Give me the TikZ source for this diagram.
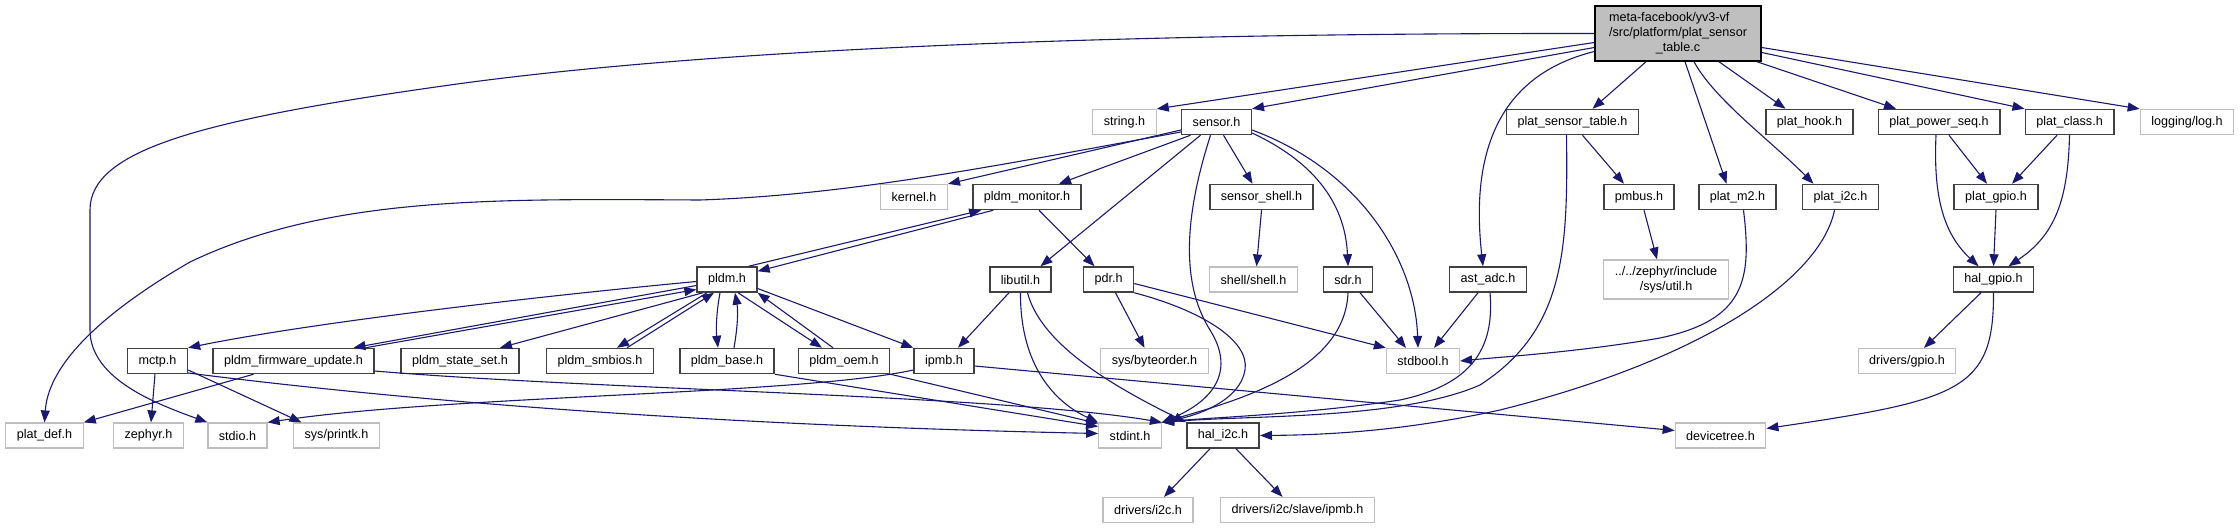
\documentclass[tikz,border=0pt]{standalone}
\usepackage{fontspec}
\setmainfont{Liberation Sans}
\usetikzlibrary{arrows.meta}
\definecolor{edge}{HTML}{191970}
\definecolor{frame}{HTML}{404040}
\definecolor{sysframe}{HTML}{BFBFBF}
\definecolor{rootfill}{HTML}{BFBFBF}
\tikzset{
  font=\fontsize{12.6}{15}\selectfont,
  >={Triangle[length=12pt, width=9pt]},
  %
  hdr/.style={
    draw=frame, line width=1.5pt, fill=white, text=black,
    inner xsep=11pt, inner ysep=0pt, minimum height=25pt,
  },
  syshdr/.style={hdr, draw=sysframe, line width=1.2pt},
  srcfile/.style={hdr, draw=black, fill=rootfill,
                  minimum width=166pt, minimum height=55pt},
  %
  dep/.style={draw=edge, line width=1.1pt, ->},
}

\begin{document}
\begin{tikzpicture}[x=1pt, y=-1pt]
  \useasboundingbox (0,0) rectangle (2240,529);

  % ---- nodes ------------------------------------------------------------
  \node[srcfile] (src) at (1678,33.5)
    {\begin{tabular}{@{}l@{}}meta-facebook/yv3-vf\\/src/platform/plat\_sensor\\
     \multicolumn{1}{@{}c@{}}{\_table.c}\end{tabular}};

  % row 1
  \node[syshdr] (string) at (1124.5,122) {string.h};
  \node[hdr]    (sensor) at (1216.5,122) {sensor.h};
  \node[hdr]    (pst)    at (1572.5,122) {plat\_sensor\_table.h};
  \node[hdr]    (hook)   at (1809.5,122) {plat\_hook.h};
  \node[hdr]    (pwrseq) at (1939,122)   {plat\_power\_seq.h};
  \node[hdr]    (class)  at (2069.5,122) {plat\_class.h};
  \node[syshdr] (log)    at (2187,122)   {logging/log.h};

  % row 2
  \node[syshdr] (kernel)  at (914,197)    {kernel.h};
  \node[hdr]    (monitor) at (1027,197)   {pldm\_monitor.h};
  \node[hdr]    (shellh)  at (1261.5,197) {sensor\_shell.h};
  \node[hdr]    (pmbus)   at (1639,197)   {pmbus.h};
  \node[hdr]    (m2)      at (1737.5,197) {plat\_m2.h};
  \node[hdr]    (i2c)     at (1840.5,197) {plat\_i2c.h};
  \node[hdr]    (pgpio)   at (1996,197)   {plat\_gpio.h};

  % row 3
  \node[hdr]    (pldm)    at (727,279.5)    {pldm.h};
  \node[hdr]    (libutil) at (1020.5,279.5) {libutil.h};
  \node[hdr]    (pdr)     at (1108.5,279.5) {pdr.h};
  \node[syshdr] (shell)   at (1253.5,279.5) {shell/shell.h};
  \node[hdr]    (sdr)     at (1348,279.5)   {sdr.h};
  \node[hdr]    (adc)     at (1488,279.5)   {ast\_adc.h};
  \node[syshdr, align=center, minimum height=39pt] (util) at (1666,279.5)
    {../../zephyr/include\\/sys/util.h};
  \node[hdr]    (hgpio)   at (1993.5,279.5) {hal\_gpio.h};

  % row 4
  \node[hdr]    (mctp)      at (157.5,361)  {mctp.h};
  \node[hdr]    (fwup)      at (293.5,361)  {pldm\_firmware\_update.h};
  \node[hdr]    (stateset)  at (460,361)    {pldm\_state\_set.h};
  \node[hdr]    (smbios)    at (600,361)    {pldm\_smbios.h};
  \node[hdr]    (base)      at (727,361)    {pldm\_base.h};
  \node[hdr]    (oem)       at (844,361)    {pldm\_oem.h};
  \node[hdr]    (ipmb)      at (944,361)    {ipmb.h};
  \node[syshdr] (byteorder) at (1154.5,361) {sys/byteorder.h};
  \node[syshdr] (stdbool)   at (1423,361)   {stdbool.h};
  \node[syshdr] (dgpio)     at (1907,361)   {drivers/gpio.h};

  % row 5
  \node[syshdr] (platdef) at (44.5,435.5)   {plat\_def.h};
  \node[syshdr] (zephyr)  at (148.5,435.5)  {zephyr.h};
  \node[syshdr] (stdio)   at (237.5,435.5)  {stdio.h};
  \node[syshdr] (printk)  at (336.5,435.5)  {sys/printk.h};
  \node[syshdr] (stdint)  at (1130,435.5)   {stdint.h};
  \node[hdr]    (hali2c)  at (1223,435.5)   {hal\_i2c.h};
  \node[syshdr] (dtree)   at (1720.5,435.5) {devicetree.h};

  % row 6
  \node[syshdr] (di2c)  at (1148,510)   {drivers/i2c.h};
  \node[syshdr] (dipmb) at (1297.5,510) {drivers/i2c/slave/ipmb.h};

  % ---- includes of the source file ---------------------------------------
  \draw[dep] (src.west) .. controls (1100,33) and (700,50) .. (450,85)
    .. controls (200,120) and (90,150) .. (90,210) -- (90,330)
    .. controls (90,380) and (160,405) .. (stdio.north west);
  \draw[dep] ([yshift=-9pt]src.west) -- (string.north east);
  \draw[dep] ([yshift=-14pt]src.west) -- (sensor.north east);
  \draw[dep] ([yshift=-18pt]src.west) .. controls (1500,75) and (1470,150)
    .. ([xshift=-5pt]adc.north);
  \draw[dep] ([xshift=-32pt]src.south) -- ([xshift=20pt]pst.north);
  \draw[dep] ([xshift=7pt]src.south) -- ([xshift=-11pt]m2.north);
  \draw[dep] ([xshift=16pt]src.south) .. controls (1715,100) and (1770,140)
    .. ([xshift=-27pt]i2c.north);
  \draw[dep] ([xshift=41pt]src.south) -- ([xshift=-24pt]hook.north);
  \draw[dep] ([xshift=79pt]src.south) -- ([xshift=-43pt]pwrseq.north);
  \draw[dep] ([yshift=-19pt]src.east) -- (class.north west);
  \draw[dep] ([yshift=-14pt]src.east) -- (log.north west);

  % ---- sensor.h ----------------------------------------------------------
  \draw[dep] ([yshift=-10pt]sensor.west) .. controls (1000,165) and (850,195) .. (700,200)
    .. controls (500,199) and (330,195) .. (190,262)
    .. controls (90,320) and (48,370) .. (platdef.north);
  \draw[dep] ([yshift=-8pt]sensor.west) -- (kernel.north east);
  \draw[dep] ([xshift=-26pt]sensor.south) -- ([xshift=32pt]monitor.north);
  \draw[dep] ([xshift=-16pt]sensor.south) -- ([xshift=20pt]libutil.north);
  \draw[dep] ([xshift=-6pt]sensor.south) .. controls (1180,230) and (1185,290) .. (1210,330)
    .. controls (1235,370) and (1215,400) .. (stdint.north east);
  \draw[dep] ([xshift=7pt]sensor.south) -- ([xshift=-9pt]shellh.north);
  \draw[dep] ([yshift=-11pt]sensor.east) .. controls (1310,160) and (1345,200) .. (sdr.north);
  \draw[dep] ([yshift=-8pt]sensor.east) .. controls (1360,170) and (1415,260)
    .. ([xshift=-5pt]stdbool.north);

  % ---- second row --------------------------------------------------------
  \draw[dep] ([xshift=-9pt]pldm.north east) -- ([xshift=9pt]monitor.south west);
  \draw[dep] ([xshift=21pt]monitor.south west) -- ([yshift=-5pt]pldm.north east);
  \draw[dep] ([xshift=12pt]monitor.south) -- ([xshift=-14pt]pdr.north);
  \draw[dep] (shellh.south) -- ([xshift=3pt]shell.north);
  \draw[dep] ([xshift=10pt]pst.south) -- ([xshift=-15pt]pmbus.north);
  \draw[dep] ([xshift=-6pt]pst.south) .. controls (1568,250) and (1565,330) .. (1480,385)
    .. controls (1400,420) and (1250,415) .. (stdint.north east);
  \draw[dep] ([xshift=5pt]pmbus.south) -- ([xshift=-9pt]util.north);
  \draw[dep] ([xshift=6pt]m2.south) .. controls (1752,280) and (1745,320) .. (1660,338)
    .. controls (1580,352) and (1500,357) .. (stdbool.east);
  \draw[dep] ([xshift=-6pt]i2c.south) .. controls (1820,280) and (1700,360) .. (1500,410)
    .. controls (1400,432) and (1320,435) .. (hali2c.east);
  \draw[dep] ([xshift=10pt]pwrseq.south) -- ([xshift=-9pt]pgpio.north);
  \draw[dep] ([xshift=-3pt]pwrseq.south) .. controls (1933,200) and (1945,235)
    .. ([xshift=-15pt]hgpio.north);
  \draw[dep] ([xshift=-12.5pt]class.south) -- ([xshift=16pt]pgpio.north);
  \draw[dep] (class.south) .. controls (2068,200) and (2055,235) .. ([xshift=15pt]hgpio.north);
  \draw[dep] (pgpio.south) -- (hgpio.north);

  % ---- third row ---------------------------------------------------------
  \draw[dep] ([xshift=-12.5pt]hgpio.south) -- ([xshift=17pt]dgpio.north);
  \draw[dep] (hgpio.south) .. controls (1994,390) and (1960,400) .. ([yshift=7pt]dtree.east);
  \draw[dep] ([xshift=-10pt]adc.south) -- ([xshift=11pt]stdbool.north);
  \draw[dep] ([xshift=2pt]adc.south) .. controls (1495,350) and (1470,385) .. (1400,400)
    .. controls (1300,415) and (1200,418) .. (stdint.north east);
  \draw[dep] ([xshift=12pt]sdr.south) -- ([xshift=-17pt]stdbool.north);
  \draw[dep] (sdr.south) .. controls (1345,370) and (1240,400) .. (stdint.north east);
  \draw[dep] ([xshift=7pt]pdr.south) -- ([xshift=-10pt]byteorder.north);
  \draw[dep] (pdr.south east) .. controls (1200,310) and (1250,340) .. (1245,370)
    .. controls (1240,400) and (1200,415) .. (stdint.north east);
  \draw[dep] ([yshift=-4pt]pdr.east) -- (stdbool.north west);
  \draw[dep] ([xshift=-11.5pt]libutil.south) -- ([xshift=14pt]ipmb.north);
  \draw[dep] (libutil.south) .. controls (1020,360) and (1050,400) .. (stdint.north west);
  \draw[dep] ([xshift=7pt]libutil.south) .. controls (1040,340) and (1100,380) .. (hali2c.north west);

  % ---- pldm.h ------------------------------------------------------------
  \draw[dep] ([yshift=-2pt]pldm.west) .. controls (500,300) and (300,325) .. (mctp.north east);
  \draw[dep] ([yshift=-6pt]pldm.west) -- ([xshift=60pt]fwup.north);
  \draw[dep] ([xshift=72pt]fwup.north) -- ([yshift=-10pt]pldm.west);
  \draw[dep] ([xshift=-24pt]pldm.south) -- ([xshift=40pt]stateset.north);
  \draw[dep] ([xshift=-20pt]pldm.south) -- ([xshift=17pt]smbios.north);
  \draw[dep] ([xshift=27pt]smbios.north) -- ([xshift=-13pt]pldm.south);
  \draw[dep] ([xshift=-7pt]pldm.south) .. controls (716,315) and (716,330) .. ([xshift=-9pt]base.north);
  \draw[dep] ([xshift=7pt]base.north) .. controls (738,325) and (738,310) .. ([xshift=8pt]pldm.south);
  \draw[dep] ([xshift=11pt]pldm.south) -- ([xshift=-22pt]oem.north);
  \draw[dep] ([xshift=-11pt]oem.north) -- (pldm.south east);
  \draw[dep] ([yshift=-9pt]pldm.east) -- (ipmb.north west);

  % ---- fourth row --------------------------------------------------------
  \draw[dep] ([xshift=-2.5pt]mctp.south) -- ([xshift=2.5pt]zephyr.north);
  \draw[dep] ([yshift=-9pt]mctp.east) -- ([xshift=-35pt]printk.north);
  \draw[dep] ([yshift=-12pt]mctp.east) .. controls (400,400) and (700,425) .. ([yshift=2pt]stdint.west);
  \draw[dep] ([xshift=-40pt]fwup.south) -- (platdef.north east);
  \draw[dep] ([yshift=-10pt]fwup.east) .. controls (600,390) and (1000,395) .. (stdint.north east);
  \draw[dep] (base.south east) -- ([yshift=9pt]stdint.west);
  \draw[dep] (oem.south east) -- ([yshift=12pt]stdint.west);
  \draw[dep] ([yshift=-9pt]ipmb.west) .. controls (800,395) and (450,395) .. (stdio.north east);
  \draw[dep] ([yshift=-5pt]ipmb.east) -- ([yshift=5pt]dtree.west);

  % ---- hal_i2c.h ---------------------------------------------------------
  \draw[dep] ([xshift=-13pt]hali2c.south) -- ([xshift=16pt]di2c.north);
  \draw[dep] ([xshift=13pt]hali2c.south) -- ([xshift=-15pt]dipmb.north);

\end{tikzpicture}
\end{document}
